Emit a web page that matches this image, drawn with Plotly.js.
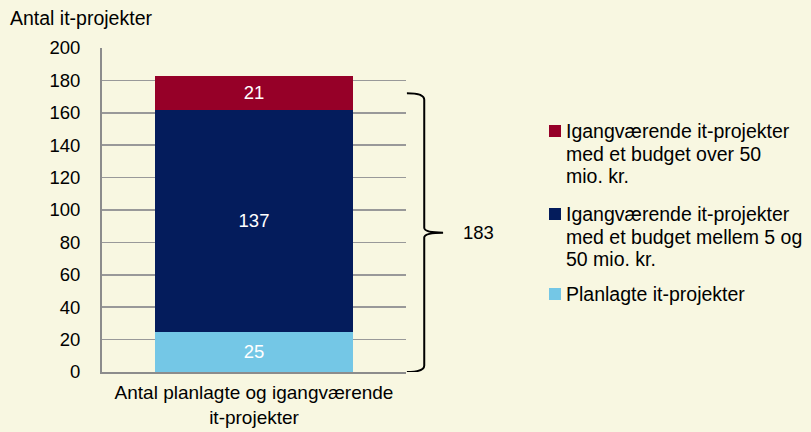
<!DOCTYPE html>
<html><head><meta charset="utf-8">
<script src="https://cdn.plot.ly/plotly-3.0.1.min.js"></script>
<style>html,body{margin:0;padding:0;background:#f8f7e1;}</style>
</head><body><div id="chart" style="width:811px;height:432px;"></div>
<script>
const categories = ["Antal planlagte og igangværende<br>it-projekter"];
const seriesNames = [
  "Planlagte it-projekter",
  "Igangværende it-projekter<br>med et budget mellem 5 og<br>50 mio. kr.",
  "Igangværende it-projekter<br>med et budget over 50<br>mio. kr."
];
const planlagte = [25];
const mellem5og50 = [137];
const over50 = [21];
const total = 183;
const colors = ["#74c7e6", "#041c5c", "#960028"];
const seriesValues = [planlagte, mellem5og50, over50];
const FONT = "Liberation Sans, Arial, sans-serif";
const TXT = 19.5;

const traces = seriesValues.map((vals, i) => ({
  type: "bar",
  x: categories,
  y: vals,
  name: seriesNames[i],
  marker: {color: colors[i]},
  text: vals.map(String),
  textposition: "inside",
  insidetextanchor: "middle",
  textfont: {color: "#ffffff", size: 18.5, family: FONT},
  width: 0.65,
  hoverinfo: "none"
}));

// Brace
const braceTop = 172, braceMid = 86, braceBot = 0;
const x0 = 1.003, x1 = 1.06, x2 = 1.122;
const bracePath = `M ${x0},${braceTop} Q ${x1},${braceTop} ${x1},${braceTop-4} L ${x1},${braceMid+3} Q ${x1},${braceMid} ${x2},${braceMid} Q ${x1},${braceMid} ${x1},${braceMid-3} L ${x1},${braceBot+4} Q ${x1},${braceBot} ${x0},${braceBot}`;

// Custom legend (top item = last series)
const W = 811, H = 432, mL = 102, mR = 405, mT = 48, mB = 60;
const pw = W - mL - mR, ph = H - mT - mB;
const px = v => (v - mL) / pw;
const py = v => 1 - (v - mT) / ph;
const legendShapes = [];
const legendAnn = [];
const itemTops = [131, 214, 294];
const lineGap = 22.5;
const order = [2, 1, 0];
order.forEach((si, k) => {
  const yc = itemTops[k];
  legendShapes.push({type: "rect", xref: "paper", yref: "paper",
    x0: px(549), x1: px(561), y0: py(yc - 6), y1: py(yc + 6),
    fillcolor: colors[si], line: {width: 0}});
  seriesNames[si].split("<br>").forEach((line, j) => {
    legendAnn.push({xref: "paper", yref: "paper", x: px(564), y: py(yc + j * lineGap),
      xanchor: "left", yanchor: "middle", text: line, showarrow: false,
      font: {size: TXT, color: "#000", family: FONT}});
  });
});

const layout = {
  width: W, height: H,
  paper_bgcolor: "#f8f7e1", plot_bgcolor: "#f8f7e1",
  font: {family: FONT, size: 18, color: "#000"},
  margin: {l: mL, r: mR, t: mT, b: mB},
  barmode: "stack",
  showlegend: false,
  title: {text: "Antal it-projekter", x: 10/811, xref: "container", xanchor: "left", y: 1 - 18/432, yref: "container", yanchor: "middle", font: {size: TXT, color: "#000", family: FONT}},
  xaxis: {showgrid: false, showline: true, linecolor: "#8c8c8c", linewidth: 2, ticks: "", ticklabelstandoff: 2, tickfont: {size: 19}, fixedrange: true},
  yaxis: {range: [0, 200], dtick: 20, showgrid: true, gridcolor: "#999999", gridwidth: 1.5, showline: true, linecolor: "#8c8c8c", linewidth: 2, zeroline: false, ticks: "", ticklabelstandoff: 16, tickfont: {size: 18.5}},
  shapes: [{type: "path", xref: "paper", yref: "y", path: bracePath, line: {color: "#000", width: 2}}].concat(legendShapes),
  annotations: [{xref: "paper", yref: "y", x: px(478), xanchor: "center", y: braceMid, yanchor: "middle", text: String(total), showarrow: false, font: {size: 18.5, color: "#000"}}].concat(legendAnn)
};

Plotly.newPlot("chart", traces, layout, {displayModeBar: false, staticPlot: true});
</script></body></html>
